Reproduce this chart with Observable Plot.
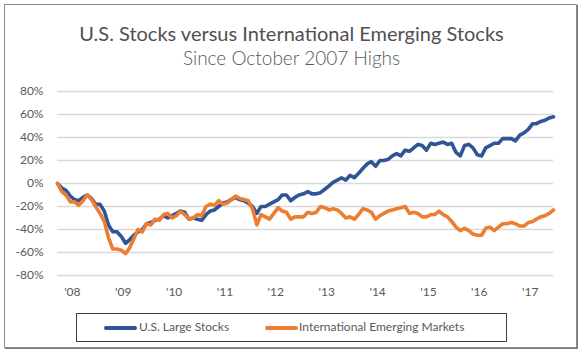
<!DOCTYPE html>
<html>
<head>
<meta charset="utf-8">
<script src="https://cdn.jsdelivr.net/npm/d3@7"></script>
<script src="https://cdn.jsdelivr.net/npm/@observablehq/plot@0.6"></script>
<style>
  html, body { margin: 0; padding: 0; background: #fff; }
  #wrap { position: relative; width: 583px; height: 354px; overflow: hidden; font-family: Lato, "Open Sans", sans-serif; color: #595959; }
  #frame { position: absolute; left: 4px; top: 4px; width: 571px; height: 342px; border: 1px solid #8a8a8a; box-shadow: 1px 1px 0 #7a7a7a; }
  #title { position: absolute; left: 0; width: 583px; top: 21px; text-align: center; font-size: 20px; line-height: 24px; color: #505050; }
  #subtitle { position: absolute; left: 0; width: 583px; top: 47px; text-align: center; font-size: 19px; line-height: 22px; color: #595959; font-weight: 300; }
  #chart { position: absolute; left: 0; top: 80px; }
  #legend { position: absolute; left: 76px; top: 313px; width: 429px; height: 27px; border: 1px solid #404040; }
  .sw { position: absolute; top: 12px; height: 4px; width: 33px; border-radius: 2px; }
  .lt { position: absolute; top: 5px; font-size: 12px; line-height: 16px; color: #595959; white-space: nowrap; }
</style>
</head>
<body>
<div id="wrap">
  <div id="frame"></div>
  <div id="title">U.S. Stocks versus International Emerging Stocks</div>
  <div id="subtitle">Since October 2007 Highs</div>
  <div id="chart"></div>
  <div id="legend"></div>
</div>
<script>
// Series names and colours
const seriesNames = ["U.S. Large Stocks", "International Emerging Markets"];
const seriesColors = ["#2F5597", "#ED7D31"];

// First month of data (October 2007), monthly through July 2017
const startMonth = "2007-10-01";

// Cumulative change since October 2007 highs (%), monthly
const usLarge = [
  0, -4, -6, -11, -14, -15, -12, -10, -13, -18,
  -18, -24, -36, -42, -42, -46, -52, -49, -45, -42,
  -40, -35, -34, -32, -31, -28, -30, -28, -26, -24,
  -25, -31, -30, -31, -32, -27, -24, -23, -20, -17,
  -16, -14, -12, -14, -15, -17, -20, -26, -20, -20,
  -18, -16, -14, -10, -10, -15, -12, -10, -9, -7,
  -9, -9, -8, -5, -2, 1, 3, 5, 3, 7,
  5, 9, 13, 17, 19, 15, 20, 20, 21, 24,
  26, 24, 29, 28, 31, 34, 33, 29, 35, 34,
  35, 36, 34, 35, 27, 24, 33, 34, 31, 25,
  24, 31, 33, 35, 35, 39, 39, 39, 37, 42,
  44, 47, 52, 52, 54, 55, 57, 58
];
const emerging = [
  0, -7, -10, -16, -16, -19, -15, -10, -14, -20,
  -26, -33, -47, -57, -57, -58, -61, -56, -48, -40,
  -42, -35, -36, -31, -32, -27, -26, -30, -28, -24,
  -27, -31, -30, -27, -28, -20, -18, -19, -15, -18,
  -17, -14, -11, -13, -14, -15, -22, -36, -27, -29,
  -31, -26, -21, -24, -25, -31, -29, -29, -29, -25,
  -26, -25, -20, -21, -23, -22, -23, -26, -30, -29,
  -31, -27, -22, -23, -25, -31, -28, -26, -24, -23,
  -22, -21, -20, -26, -25, -26, -29, -29, -27, -27,
  -24, -27, -29, -33, -38, -41, -39, -41, -44, -45,
  -45, -39, -38, -41, -38, -35, -35, -34, -35, -37,
  -37, -34, -33, -31, -29, -28, -26, -23
];

// Axis ticks
const yTicks = [-80, -60, -40, -20, 0, 20, 40, 60, 80];
const xTickYears = [2008, 2009, 2010, 2011, 2012, 2013, 2014, 2015, 2016, 2017];
const xTickLabels = ["'08", "'09", "'10", "'11", "'12", "'13", "'14", "'15", "'16", "'17"];

const start = new Date(startMonth + "T00:00:00Z");
const dates = usLarge.map((_, i) => d3.utcMonth.offset(start, i));
const rows = [];
[usLarge, emerging].forEach((vals, s) => {
  vals.forEach((v, i) => rows.push({date: dates[i], value: v, series: seriesNames[s]}));
});
const xTickDates = xTickYears.map(y => new Date(Date.UTC(y, 0, 1)));
const labelOf = new Map(xTickDates.map((d, i) => [+d, xTickLabels[i]]));

const chart = Plot.plot({
  width: 583,
  height: 230,
  marginLeft: 57,
  marginRight: 30,
  marginTop: 11,
  marginBottom: 35,
  style: {fontFamily: "Lato, 'Open Sans', sans-serif", fontSize: "12px", color: "#595959", background: "transparent"},
  x: {type: "utc", domain: [dates[0], dates[dates.length - 1]], label: null},
  y: {domain: [-80, 80], label: null},
  color: {domain: seriesNames, range: seriesColors},
  marks: [
    Plot.ruleY(yTicks, {stroke: "#d9d9d9", strokeWidth: 1.6}),
    Plot.axisY({ticks: yTicks, tickSize: 0, tickPadding: 14, tickFormat: d => d + "%", fill: "#595959", fontSize: 12, label: null}),
    Plot.axisX({ticks: xTickDates, tickSize: 0, tickPadding: 12, dx: 2, tickFormat: d => labelOf.get(+d), fill: "#595959", fontSize: 12, label: null}),
    Plot.line(rows, {x: "date", y: "value", z: "series", stroke: "series", strokeWidth: 3.6, strokeLinejoin: "round", strokeLinecap: "round"})
  ]
});
document.getElementById("chart").appendChild(chart);

// Legend
const legend = document.getElementById("legend");
const swLeft = [27, 188];
const txtLeft = [62, 222];
seriesNames.forEach((n, i) => {
  const sw = document.createElement("div");
  sw.className = "sw";
  sw.style.left = swLeft[i] + "px";
  sw.style.background = seriesColors[i];
  legend.appendChild(sw);
  const t = document.createElement("div");
  t.className = "lt";
  t.style.left = txtLeft[i] + "px";
  t.textContent = n;
  legend.appendChild(t);
});
</script>
</body>
</html>
